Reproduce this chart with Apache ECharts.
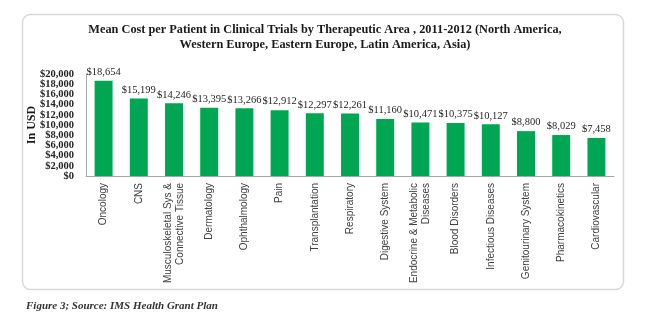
<!DOCTYPE html>
<html><head><meta charset="utf-8">
<script src="https://cdn.jsdelivr.net/npm/echarts@6/dist/echarts.min.js"></script>
<style>html,body{margin:0;padding:0;background:#fff}#c{width:650px;height:324px}</style>
</head><body><div id="c"></div>
<script>
const categories = ["Oncology","CNS","Musculoskeletal Sys &\nConnective Tissue","Dermatology","Ophthalmology","Pain","Transplantation","Respiratory","Digestive System","Endocrine & Metabolic\nDiseases","Blood Disorders","Infectious Diseases","Genitourinary System","Pharmacokinetics","Cardiovascular"];
const values = [18654,15199,14246,13395,13266,12912,12297,12261,11160,10471,10375,10127,8800,8029,7458];
const yTicks = [0,2000,4000,6000,8000,10000,12000,14000,16000,18000,20000];
const titleText = "Mean Cost per Patient in Clinical Trials by Therapeutic Area , 2011-2012 (North America,\nWestern Europe, Eastern Europe, Latin America, Asia)";
const captionText = "Figure 3; Source: IMS Health Grant Plan";

const fmt = v => '$' + v.toLocaleString('en-US');
const ticksA = yTicks.filter((v,i)=>i%2===0);
const ticksB = yTicks.filter((v,i)=>i%2===1);
const labelStyle = {margin:12, showMinLabel:true, showMaxLabel:true, hideOverlap:false, formatter:v=>fmt(v),
  fontFamily:'Liberation Serif', fontWeight:'bold', fontSize:10.5, color:'#262626'};
const chart = echarts.init(document.getElementById('c'), null, {renderer:'canvas'});
chart.setOption({
  animation:false,
  backgroundColor:'#fff',
  graphic:[{type:'rect', shape:{x:22.5,y:14.5,width:601,height:275,r:8}, style:{fill:'#fff',stroke:'#d9d9d9',lineWidth:1.5}, z:-10}],
  title:[
    {text:titleText, left:'center', top:17, textStyle:{fontFamily:'Liberation Serif', fontWeight:'bold', fontSize:12.3, color:'#1a1a1a', lineHeight:15, align:'center'}},
    {text:captionText, left:21, top:296, textStyle:{fontFamily:'Liberation Serif', fontStyle:'italic', fontWeight:'bold', fontSize:11, color:'#333'}}
  ],
  grid:{left:86, right:36, top:74, bottom:148, containLabel:false},
  xAxis:{type:'category', data:categories,
    axisLine:{lineStyle:{color:'#a6a6a6'}}, axisTick:{show:false},
    axisLabel:{rotate:90, interval:0, margin:7, fontFamily:'Liberation Sans', fontSize:10, color:'#404040', lineHeight:12}},
  yAxis:[
    {type:'value', position:'left', min:yTicks[0], max:yTicks[yTicks.length-1], interval:2000,
      name:'In USD', nameLocation:'middle', nameGap:48, nameRotate:90, nameMoveOverlap:false,
      nameTextStyle:{fontFamily:'Liberation Serif', fontWeight:'bold', fontSize:12, color:'#1a1a1a'},
      axisLine:{show:true, lineStyle:{color:'#a6a6a6'}}, axisTick:{show:false}, splitLine:{show:false},
      axisLabel:Object.assign({customValues:ticksA}, labelStyle)},
    {type:'value', position:'left', offset:0, min:yTicks[0], max:yTicks[yTicks.length-1], interval:2000,
      axisLine:{show:false}, axisTick:{show:false}, splitLine:{show:false},
      axisLabel:Object.assign({customValues:ticksB}, labelStyle)}
  ],
  series:[{type:'bar', yAxisIndex:0, data:values, barWidth:'51%', itemStyle:{color:'#00A651'},
    label:{show:true, position:'top', distance:3, formatter:p=>fmt(p.value), fontFamily:'Liberation Serif', fontSize:10.5, color:'#262626'}}]
});
</script></body></html>
